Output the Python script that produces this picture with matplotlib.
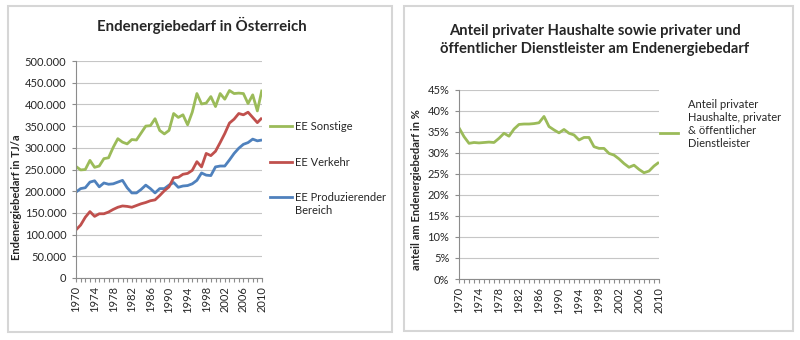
import matplotlib
matplotlib.use("Agg")
import matplotlib.pyplot as plt
from matplotlib.lines import Line2D
from matplotlib.patches import Rectangle
from matplotlib.ticker import FixedLocator, FuncFormatter, MultipleLocator
import numpy as np

plt.rcParams["font.family"] = ["Lato", "DejaVu Sans"]

# Endenergiebedarf in Österreich, TJ/a
years = np.arange(1970, 2011)
ee_sonstige = [257000, 249000, 250000, 271000, 255000, 258000, 275000, 277000,
               301000, 321000, 313000, 309000, 319000, 318000, 334000, 350000,
               351000, 367000, 340000, 332000, 340000, 379000, 370000, 376000,
               353000, 382000, 425000, 401000, 403000, 418000, 395000, 425000,
               412000, 432000, 425000, 426000, 425000, 402000, 422000, 385000,
               434000]
ee_verkehr = [111000, 122000, 140000, 153000, 142000, 148000, 148000, 152000,
              158000, 163000, 166000, 165000, 163000, 167000, 171000, 174000,
              178000, 180000, 190000, 201000, 210000, 231000, 232000, 239000,
              241000, 248000, 268000, 256000, 287000, 282000, 292000, 312000,
              333000, 357000, 366000, 379000, 376000, 382000, 370000, 358000,
              369000]
ee_produzierend = [198000, 206000, 208000, 221000, 224000, 210000, 219000, 216000,
                   217000, 221000, 225000, 208000, 196000, 196000, 204000, 214000,
                   206000, 196000, 206000, 206000, 214000, 220000, 209000, 212000,
                   213000, 217000, 225000, 242000, 237000, 236000, 256000, 258000,
                   258000, 272000, 287000, 299000, 308000, 312000, 320000, 316000,
                   318000]

# Anteil private Haushalte + private & öffentliche Dienstleister, %
anteil_hh = [36.0, 33.9, 32.3, 32.5, 32.4, 32.5, 32.6, 32.5, 33.5, 34.7,
             34.0, 35.7, 36.8, 36.9, 36.9, 37.0, 37.2, 38.7, 36.3, 35.5,
             34.8, 35.6, 34.7, 34.3, 33.1, 33.7, 33.7, 31.5, 31.1, 31.1,
             29.9, 29.5, 28.6, 27.5, 26.6, 27.1, 26.1, 25.3, 25.7, 26.9,
             27.8]

year_ticks = list(range(1970, 2011, 4))

GREEN = "#9bbb59"
RED = "#c0504d"
BLUE = "#4f81bd"
GRID = "#c6c6c6"
AXIS = "#8c8c8c"
TXT = "#262626"

W, H = 800, 340


def fx(px):
    return px / W


def fy(py):
    return 1 - py / H


def box(fig, x0, y0, x1, y1):
    fig.add_artist(Rectangle((fx(x0), fy(y1)), fx(x1 - x0), (y1 - y0) / H,
                             transform=fig.transFigure, fill=False,
                             edgecolor="#d6d6d6", lw=1.5))


def excel_axes(ax):
    for s in ("top", "right"):
        ax.spines[s].set_visible(False)
    for s in ("left", "bottom"):
        ax.spines[s].set_color(AXIS)
        ax.spines[s].set_linewidth(0.8)
    ax.set_xlim(1970, 2010)
    ax.xaxis.set_major_locator(FixedLocator(year_ticks))
    ax.xaxis.set_minor_locator(MultipleLocator(1))
    ax.tick_params(axis="both", which="both", direction="out", color=AXIS,
                   width=0.8, labelsize=8, labelcolor=TXT)
    ax.tick_params(axis="x", which="both", length=3, pad=3)
    ax.tick_params(axis="y", length=3, pad=4)
    for lab in ax.get_xticklabels():
        lab.set_rotation(90)
    ax.grid(axis="y", color=GRID, lw=0.8)
    ax.set_axisbelow(True)


def legend_entry(fig, x, y, color, lines, y_text=None):
    fig.add_artist(Line2D([fx(x), fx(x + 22)], [fy(y), fy(y)],
                          transform=fig.transFigure, color=color, lw=2.0))
    fig.text(fx(x + 25), fy(y_text if y_text is not None else y),
             lines, ha="left", va="center", fontsize=8, color=TXT,
             linespacing=1.15)


fig = plt.figure(figsize=(8, 3.4), dpi=100)
box(fig, 8, 6, 392, 332)
box(fig, 404, 6, 793, 331)

# left: absolute demand by sector
ax1 = fig.add_axes([fx(76), fy(278), fx(262 - 76), (278 - 61) / H])
excel_axes(ax1)
kw = dict(lw=2.0, solid_joinstyle="round", solid_capstyle="butt")
ax1.plot(years, ee_produzierend, color=BLUE, **kw)
ax1.plot(years, ee_verkehr, color=RED, **kw)
ax1.plot(years, ee_sonstige, color=GREEN, **kw)
ax1.set_ylim(0, 500000)
ax1.yaxis.set_major_locator(MultipleLocator(50000))
ax1.yaxis.set_major_formatter(
    FuncFormatter(lambda v, _: f"{int(v):,}".replace(",", ".")))

fig.text(fx(202), fy(25), "Endenergiebedarf in Österreich", ha="center",
         va="center", fontsize=10.8, fontweight="bold", color=TXT)
fig.text(fx(17), fy(197), "Endenergiebedarf in TJ/a", rotation=90,
         ha="center", va="center", fontsize=8, fontweight="bold", color=TXT)

legend_entry(fig, 270, 126, GREEN, "EE Sonstige")
legend_entry(fig, 270, 162, RED, "EE Verkehr")
legend_entry(fig, 270, 197, BLUE, "EE Produzierender\nBereich", y_text=204)

# right: share of households and services
ax2 = fig.add_axes([fx(459), fy(279), fx(659 - 459), (279 - 90) / H])
excel_axes(ax2)
ax2.plot(years, anteil_hh, color=GREEN, **kw)
ax2.set_ylim(0, 45)
ax2.yaxis.set_major_locator(MultipleLocator(5))
ax2.yaxis.set_major_formatter(FuncFormatter(lambda v, _: f"{int(round(v))}%"))

fig.text(fx(595), fy(40),
         "Anteil privater Haushalte sowie privater und\n"
         "öffentlicher Dienstleister am Endenergiebedarf",
         ha="center", va="center", fontsize=10.6, fontweight="bold",
         color=TXT, linespacing=1.45)
fig.text(fx(417), fy(190), "anteil am Endenergiebedarf in %", rotation=90,
         ha="center", va="center", fontsize=8, fontweight="bold", color=TXT)

fig.add_artist(Line2D([fx(660), fx(678)], [fy(133), fy(133)],
                      transform=fig.transFigure, color=GREEN, lw=2.0))
fig.text(fx(688), fy(124),
         "Anteil privater\nHaushalte, privater\n& öffentlicher\nDienstleister",
         ha="left", va="center", fontsize=8, color=TXT, linespacing=1.2)

fig.savefig("out.png", dpi=100)
